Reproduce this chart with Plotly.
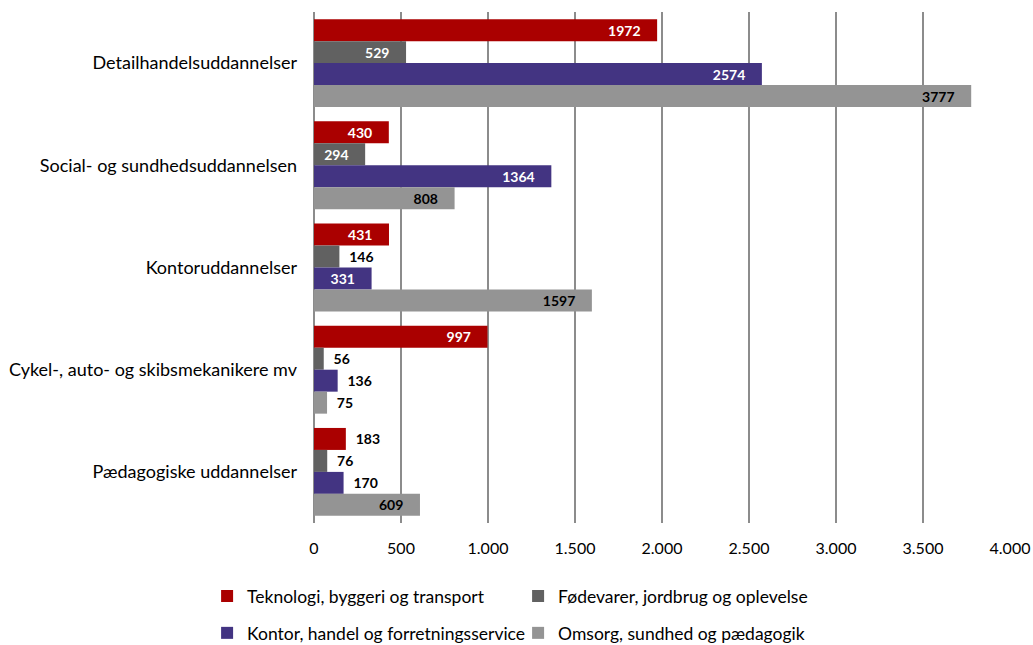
import plotly.graph_objects as go

categories = [
    "Detailhandelsuddannelser",
    "Social- og sundhedsuddannelsen",
    "Kontoruddannelser",
    "Cykel-, auto- og skibsmekanikere mv",
    "Pædagogiske uddannelser",
]
series_names = [
    "Teknologi, byggeri og transport",
    "Fødevarer, jordbrug og oplevelse",
    "Kontor, handel og forretningsservice",
    "Omsorg, sundhed og pædagogik",
]
teknologi = [1972, 430, 431, 997, 183]
foedevarer = [529, 294, 146, 56, 76]
kontor = [2574, 1364, 331, 136, 170]
omsorg = [3777, 808, 1597, 75, 609]

series_values = [teknologi, foedevarer, kontor, omsorg]
colors = ["#AA0000", "#616161", "#433482", "#949494"]
inside_colors = ["#FFFFFF", "#FFFFFF", "#FFFFFF", "#000000"]
legend_ids = ["legend", "legend", "legend2", "legend2"]

FONT = "Lato"
NB = "\u00a0"

fig = go.Figure()
for name, vals, col, icol, lg in zip(series_names, series_values, colors, inside_colors, legend_ids):
    positions = ["inside" if v >= 250 else "outside" for v in vals]
    texts = [(str(v) + NB * 4) if p == "inside" else (NB * 2 + str(v)) for v, p in zip(vals, positions)]
    fig.add_trace(go.Bar(
        name=name,
        y=categories,
        x=vals,
        orientation="h",
        marker=dict(color=col, line=dict(width=0)),
        text=texts,
        textposition=positions,
        insidetextanchor="end",
        constraintext="none",
        cliponaxis=False,
        insidetextfont=dict(family=FONT, size=14, color=icol, weight="bold"),
        outsidetextfont=dict(family=FONT, size=14, color="#000000", weight="bold"),
        textangle=0,
        legend=lg,
        hoverinfo="x+name",
    ))

legend_common = dict(
    orientation="h",
    xanchor="left", yanchor="top",
    entrywidth=266, entrywidthmode="pixels",
    font=dict(family=FONT, size=17.5, color="#000000"),
    itemwidth=30,
    traceorder="normal",
    bgcolor="rgba(0,0,0,0)",
)

fig.update_layout(
    width=1033,
    height=645,
    margin=dict(l=314, r=23, t=12, b=122, autoexpand=False),
    paper_bgcolor="white",
    plot_bgcolor="white",
    barmode="group",
    bargap=0.14,
    bargroupgap=0,
    separators=",.",
    font=dict(family=FONT, size=16, color="#000000"),
    showlegend=True,
    legend=dict(x=-0.1536, y=-0.108, **legend_common),
    legend2=dict(x=-0.1536, y=-0.180, **legend_common),
    xaxis=dict(
        range=[0, 4000],
        tickvals=[0, 500, 1000, 1500, 2000, 2500, 3000, 3500, 4000],
        tickformat=",d",
        showgrid=True,
        gridcolor="#8C8C8C",
        gridwidth=2,
        zeroline=True,
        zerolinecolor="#8C8C8C",
        zerolinewidth=2,
        showline=False,
        ticks="",
        automargin=False,
        tickfont=dict(family=FONT, size=16, color="#000000"),
        ticklabelstandoff=14,
    ),
    yaxis=dict(
        autorange="reversed",
        showgrid=False,
        showline=False,
        ticks="",
        automargin=False,
        tickfont=dict(family=FONT, size=18, color="#000000"),
        ticklabelstandoff=16,
    ),
)

fig.write_html(
    "out.html",
    config={"displayModeBar": False},
    post_script="document.body.style.margin='0';document.body.style.overflow='hidden';",
)
